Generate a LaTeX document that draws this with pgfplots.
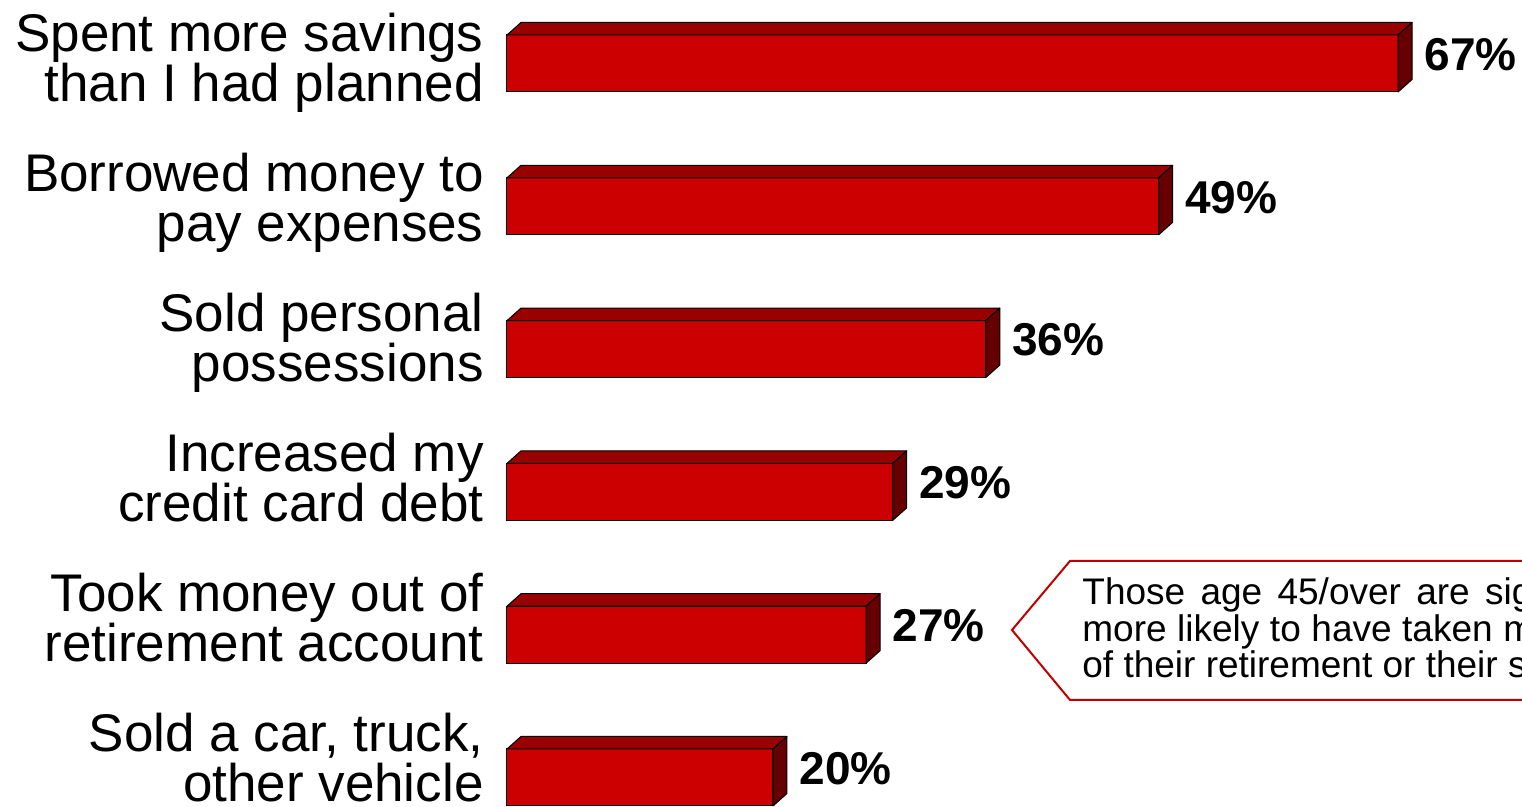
\documentclass[border=0pt]{standalone}
\usepackage{pgfplots}
\pgfplotsset{compat=1.18}
\usepackage{pgfplotstable}
\usepackage{fontspec}
\setmainfont{Liberation Sans}
\definecolor{barfront}{HTML}{CC0000}
\definecolor{bartop}{HTML}{990000}
\definecolor{barside}{HTML}{660000}
\definecolor{callout}{HTML}{C00000}
\pgfdeclareplotmark{emptymark}{}
\pgfplotstableread{
y v
5 67
4 49
3 36
2 29
1 27
0 20
}\datatable
\newcommand{\st}{\vphantom{lg}}
\begin{document}
\begin{tikzpicture}
\path[use as bounding box, clip] (0pt,0pt) rectangle (761pt,403.5pt);
\begin{axis}[
  at={(253.5pt,-20.95pt)}, anchor=south west,
  x=6.65pt, y=71.4pt,
  xmin=0, xmax=80, ymin=-0.5, ymax=5.5,
  axis line style={draw=none},
  tick style={draw=none},
  xtick=\empty,
  ytick={0.100,1.080,2.061,3.041,4.022,5.002},
  yticklabels={
    {\st Sold a car, truck,\\other vehicle\st},
    {\st Took money out of\\retirement account\st},
    {\st Increased my\\credit card debt\st},
    {\st Sold personal\\possessions\st},
    {\st Borrowed money to\\pay expenses\st},
    {\st Spent more savings\\than I had planned\st}},
  yticklabel style={font=\fontsize{26.5pt}{25pt}\selectfont, align=right, anchor=east, inner sep=0pt, xshift=-11.5pt},
  clip=false,
  /pgf/number format/assume math mode=true,
]
\addplot[xbar, bar width=28.5pt, fill=barfront, draw=black, line width=0.5pt,
  point meta=x,
  nodes near coords={\pgfmathprintnumber{\pgfplotspointmeta}\%},
  every node near coord/.append style={font=\fontsize{23pt}{27pt}\selectfont\bfseries, anchor=west, inner sep=0pt, xshift=13pt, yshift=4.5pt, text=black},
] table[x=v, y=y] {\datatable};
\addplot[only marks, scatter, mark=emptymark,
  visualization depends on={rawx \as \barval},
  scatter/@pre marker code/.code={%
    \pgfmathsetmacro{\barlen}{\barval*6.65}%
    \filldraw[fill=bartop, draw=black, line width=0.5pt, line join=round]
      (-\barlen pt,14.25pt) -- (0pt,14.25pt) -- (7pt,20.5pt) -- (-\barlen pt+7pt,20.5pt) -- cycle;
    \filldraw[fill=barside, draw=black, line width=0.5pt, line join=round]
      (0pt,-14.25pt) -- (0pt,14.25pt) -- (7pt,20.5pt) -- (7pt,-8pt) -- cycle;
  },
  scatter/@post marker code/.code={},
] table[x=v, y=y] {\datatable};
\end{axis}
\draw[callout, line width=1pt, fill=white] (800pt,123pt) -- (535pt,123pt) -- (506pt,88.5pt) -- (535pt,53.5pt) -- (800pt,53.5pt);
\begin{scope}[every node/.style={anchor=base west, inner sep=0pt, font=\fontsize{18.5pt}{18.35pt}\selectfont}]
\node at (541pt,101pt) {\makebox[297pt][s]{Those age 45/over are significantly}};
\node at (541pt,82.5pt) {\makebox[297pt][s]{more likely to have taken money out}};
\node at (541pt,64.5pt) {of their retirement or their savings};
\end{scope}
\end{tikzpicture}
\end{document}
